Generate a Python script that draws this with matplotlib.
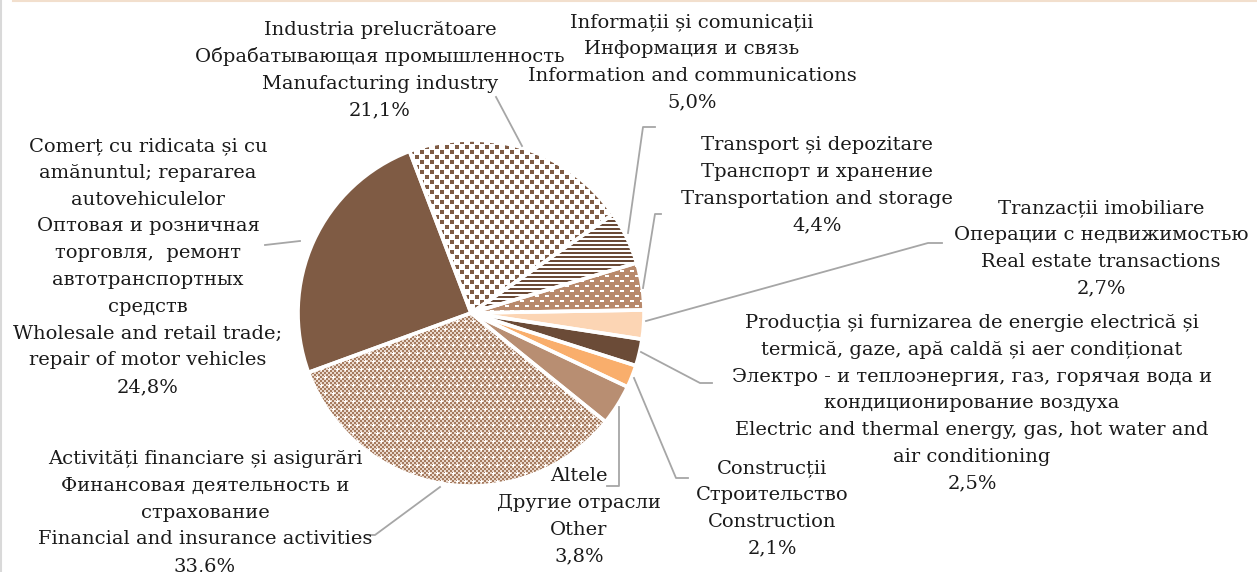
import numpy as np
import matplotlib
matplotlib.use("Agg")
import matplotlib.pyplot as plt
from matplotlib.lines import Line2D

# ---------------- data ----------------
shares = [21.1, 5.0, 4.4, 2.7, 2.5, 2.1, 3.8, 33.6, 24.8]
labels_ro = ["Industria prelucrătoare", "Informații și comunicații", "Transport și depozitare",
             "Tranzacții imobiliare",
             "Producția și furnizarea de energie electrică și\ntermică, gaze, apă caldă și aer condiționat",
             "Construcții", "Altele", "Activități financiare și asigurări",
             "Comerț cu ridicata și cu\namănuntul; repararea\nautovehiculelor"]
labels_ru = ["Обрабатывающая промышленность", "Информация и связь", "Транспорт и хранение",
             "Операции с недвижимостью",
             "Электро - и теплоэнергия, газ, горячая вода и\nкондиционирование воздуха",
             "Строительство", "Другие отрасли", "Финансовая деятельность и\nстрахование",
             "Оптовая и розничная\nторговля,  ремонт\nавтотранспортных\nсредств"]
labels_en = ["Manufacturing industry", "Information and communications", "Transportation and storage",
             "Real estate transactions",
             "Electric and thermal energy, gas, hot water and\nair conditioning",
             "Construction", "Other", "Financial and insurance activities",
             "Wholesale and retail trade;\nrepair of motor vehicles"]

# ---------------- layout / style ----------------
W, H = 1257, 572
fig = plt.figure(figsize=(W / 100, H / 100), dpi=100)
ax = fig.add_axes([0, 0, 1, 1])

cx, cy, R = 471, H - 313, 173
base_colors = ["none", "none", "none", "#FCD5B4", "#6B4B37", "#F9AE6C", "#B88E72", "none", "#7F5B44"]

wedges, _ = ax.pie(shares, radius=R, center=(cx, cy), startangle=110.8, counterclock=False,
                   colors=base_colors, wedgeprops=dict(linewidth=0, edgecolor="none"), frame=True)
ax.set_xlim(0, W)
ax.set_ylim(0, H)
ax.axis("off")

# ----- textures (pixel patterns clipped to wedges) -----
yy, xx = np.mgrid[0:H, 0:W]

def rgba(hexc):
    return np.array(matplotlib.colors.to_rgba(hexc))

def make_img(mask, fg, bg):
    img = np.empty((H, W, 4))
    img[:] = rgba(bg)
    img[mask] = rgba(fg)
    return img

# manufacturing: brown squares on white, staggered
m1 = (((xx % 10) < 4) & ((yy % 10) < 4)) | ((((xx + 5) % 10) < 4) & (((yy + 5) % 10) < 4))
tex_manuf = make_img(m1, "#7F5B44", "#FFFFFF")
# information: horizontal stripes
m2 = (yy % 4) < 2
tex_info = make_img(m2, "#6B4A36", "#FFFFFF")
# transport: white dashes on tan
row = yy // 5
m3 = ((yy % 5) < 2) & (((xx + (row % 2) * 5) % 10) < 4)
tex_trans = make_img(m3, "#FFFFFF", "#B8896B")
# financial: fine checker with white crosses
m4 = ((xx // 2 + yy // 2) % 2) == 0
tex_fin = make_img(m4, "#A57B5F", "#EAD9CD")
row8 = yy // 8
xs = (xx + (row8 % 2) * 4) % 8
ys = yy % 8
cross = ((xs == 1) & (ys <= 2)) | ((ys == 1) & (xs <= 2))
tex_fin[cross] = rgba("#FFFFFF")

for idx, tex in [(0, tex_manuf), (1, tex_info), (2, tex_trans), (7, tex_fin)]:
    im = ax.imshow(tex, extent=(0, W, 0, H), origin="upper", interpolation="nearest", zorder=1.5)
    im.set_clip_path(wedges[idx])
ax.set_xlim(0, W)
ax.set_ylim(0, H)

# white separators
ax.pie(shares, radius=R, center=(cx, cy), startangle=110.8, counterclock=False,
       colors=["none"] * len(shares), wedgeprops=dict(linewidth=2.6, edgecolor="white", zorder=3),
       frame=True)
ax.set_xlim(0, W)
ax.set_ylim(0, H)
ax.axis("off")

# ----- labels -----
font = dict(family="DejaVu Serif", fontsize=14, color="#1A1A1A", ha="center", va="center")
LS = 26.8

def pct(v):
    return f"{v:.1f}%".replace(".", ",")

label_pos = [  # (center x, y of first line from top)
    (380, 30), (692, 22), (817, 145), (1101, 208), (972, 323),
    (772, 468), (579, 476), (205, 459), (148, 146)]
for i, (x, y0) in enumerate(label_pos):
    lines = labels_ro[i].split("\n") + labels_ru[i].split("\n") + labels_en[i].split("\n") + [pct(shares[i])]
    for k, ln in enumerate(lines):
        ax.text(x, H - (y0 + k * LS), ln, zorder=5, **font)

# ----- leader lines -----
leaders = [
    [(522, 146), (496, 97)],
    [(628, 233), (643, 127), (655, 127)],
    [(643, 288), (655, 214), (661, 214)],
    [(646, 321), (928, 243), (942, 243)],
    [(641, 352), (700, 383), (712, 383)],
    [(634, 378), (676, 478), (688, 478)],
    [(619, 407), (619, 486), (607, 486)],
    [(440, 487), (375, 535), (366, 535)],
    [(300, 241), (265, 245)],
]
for pts in leaders:
    xs_, ys_ = zip(*pts)
    ax.add_line(Line2D(xs_, [H - v for v in ys_], color="#A6A6A6", lw=1.3, zorder=4))

# frame bits
ax.add_line(Line2D([1, 1], [0, H], color="#D9D9D9", lw=1.5, zorder=6))
ax.add_line(Line2D([13, W], [H - 0.5, H - 0.5], color="#F2DFCD", lw=1.5, zorder=6))

fig.savefig("out.png", dpi=100)
